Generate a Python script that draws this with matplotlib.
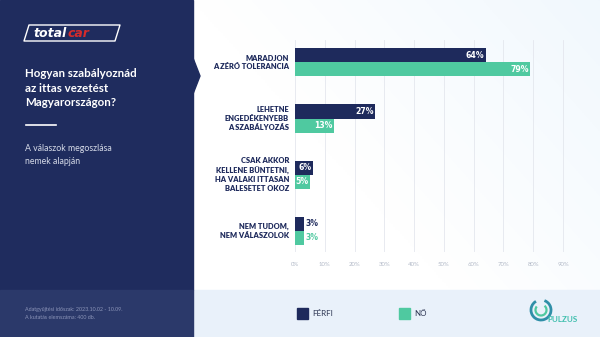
import matplotlib.pyplot as plt
import numpy as np
from matplotlib.patches import Rectangle, Polygon, Arc

categories = [
    "MARADJON\nA ZÉRÓ TOLERANCIA",
    "LEHETNE\nENGEDÉKENYEBB\nA SZABÁLYOZÁS",
    "CSAK AKKOR\nKELLENE BÜNTETNI,\nHA VALAKI ITTASAN\nBALESETET OKOZ",
    "NEM TUDOM,\nNEM VÁLASZOLOK",
]
ferfi = [64, 27, 6, 3]
no = [79, 13, 5, 3]
x_ticks = [0, 10, 20, 30, 40, 50, 60, 70, 80, 90]
series_names = ["FÉRFI", "NŐ"]

NAVY = "#1e2a5c"
PANEL = "#1f2c5e"
PANEL_LOW = "#2b396a"
GREEN = "#4fc9a0"
W, H = 600, 337

fig = plt.figure(figsize=(6, 3.37), dpi=100)

# background layer in pixel coordinates
bg = fig.add_axes([0, 0, 1, 1])
bg.set_xlim(0, W)
bg.set_ylim(H, 0)
bg.axis("off")

grad = np.linspace(0, 1, 200)
gx, gy = np.meshgrid(grad, grad)
shade = np.clip(0.55 * gx - 0.35 * gy, 0, 1)
img = np.ones((200, 200, 3))
img[..., 0] -= 0.10 * shade
img[..., 1] -= 0.05 * shade
img[..., 2] -= 0.01 * shade
bg.imshow(img, extent=(193, W, 290, 0), aspect="auto", zorder=0)
bg.add_patch(Rectangle((193, 290), W - 193, 47, color="#e9f1fa", zorder=1))
bg.add_patch(Rectangle((0, 0), 193, 290, color=PANEL, zorder=2))
bg.add_patch(Rectangle((0, 290), 193, 47, color=PANEL_LOW, zorder=2))
bg.add_patch(Polygon([(193, 58), (200, 76), (193, 94)], color=PANEL, zorder=2))

# totalcar logo
bg.add_patch(Polygon([(29, 25), (120, 25), (115, 41), (24, 41)], closed=True,
                     fill=False, edgecolor="white", lw=1.0, joinstyle="round", zorder=3))
bg.text(33, 33.5, "total", color="white", fontsize=9, fontweight="bold",
        style="italic", family="DejaVu Sans", va="center", ha="left", zorder=4)
bg.text(68, 33.5, "car", color="#d62b2b", fontsize=9, fontweight="bold",
        style="italic", family="DejaVu Sans", va="center", ha="left", zorder=4)

bg.text(25, 88, "Hogyan szabályoznád\naz ittas vezetést\nMagyarországon?",
        color="white", fontsize=8.3, fontweight="bold", family="Lato",
        va="center", ha="left", linespacing=1.35, zorder=4)
bg.plot([26, 56], [125, 125], color="white", lw=1.2, zorder=4)
bg.text(25, 155, "A válaszok megoszlása\nnemek alapján", color="#d5dae8",
        fontsize=6.3, family="Lato", va="center", ha="left", linespacing=1.5, zorder=4)
bg.text(25, 313.5, "Adatgyűjtési időszak: 2023.10.02 - 10.09.\nA kutatás elemszáma: 400 db.",
        color="#8b94b8", fontsize=3.9, family="Lato", va="center", ha="left",
        linespacing=1.6, zorder=4)

# legend
for x0, col, name in [(297, NAVY, series_names[0]), (399, GREEN, series_names[1])]:
    bg.add_patch(Rectangle((x0, 308), 11, 11, color=col, zorder=4))
    bg.text(x0 + 15, 313.8, name, color="#2a3350", fontsize=5.8, family="Lato",
            va="center", ha="left", zorder=4)

# pulzus logo
bg.add_patch(Arc((541, 310), 20, 20, theta1=-70, theta2=240, color="#2f8fa8", lw=2.0, zorder=4))
bg.add_patch(Arc((541, 310), 11, 11, theta1=-50, theta2=220, color="#4fc9a0", lw=1.6, zorder=4))
bg.text(547, 320, "PULZUS", color="#3fbfae", fontsize=5.8, fontweight="bold",
        family="Lato", va="center", ha="left", zorder=5)

# bar chart
ax_left, ax_right, ax_top, ax_bot = 295, 569, 40, 252
ax = fig.add_axes([ax_left / W, 1 - ax_bot / H, (ax_right - ax_left) / W, (ax_bot - ax_top) / H])
ax.patch.set_alpha(0)
ax.set_xlim(0, 92)
ax.set_ylim(3.38, -0.40)

y = np.arange(len(categories))
h = 0.25
ax.barh(y - h / 2, ferfi, height=h, color=NAVY, zorder=3)
ax.barh(y + h / 2, no, height=h, color=GREEN, zorder=3)

for ys, vals, col in [(y - h / 2, ferfi, NAVY), (y + h / 2, no, GREEN)]:
    for yy, v in zip(ys, vals):
        if v > 4:
            ax.text(v - 0.5, yy, f"{v}%", color="white", fontsize=6.2, fontweight="bold",
                    family="DejaVu Sans", fontstretch="condensed",
                    ha="right", va="center", zorder=4)
        else:
            ax.text(v + 0.5, yy, f"{v}%", color=col, fontsize=6.2, fontweight="bold",
                    family="DejaVu Sans", fontstretch="condensed",
                    ha="left", va="center", zorder=4)

for yy, lab in zip(y, categories):
    ax.text(-2.0, yy, lab, color=NAVY, fontsize=5.4, fontweight="heavy", family="Lato",
            ha="right", va="center", linespacing=1.3)

ax.set_xticks(x_ticks)
ax.set_xticklabels([f"{t}%" for t in x_ticks], color="#b3bac8", fontsize=4.3, family="Lato")
ax.tick_params(axis="x", length=0, pad=7)
ax.set_yticks([])
ax.grid(axis="x", color="#e4e7ee", lw=0.6, zorder=0)
for s in ax.spines.values():
    s.set_visible(False)

fig.savefig("out.png", dpi=100)
